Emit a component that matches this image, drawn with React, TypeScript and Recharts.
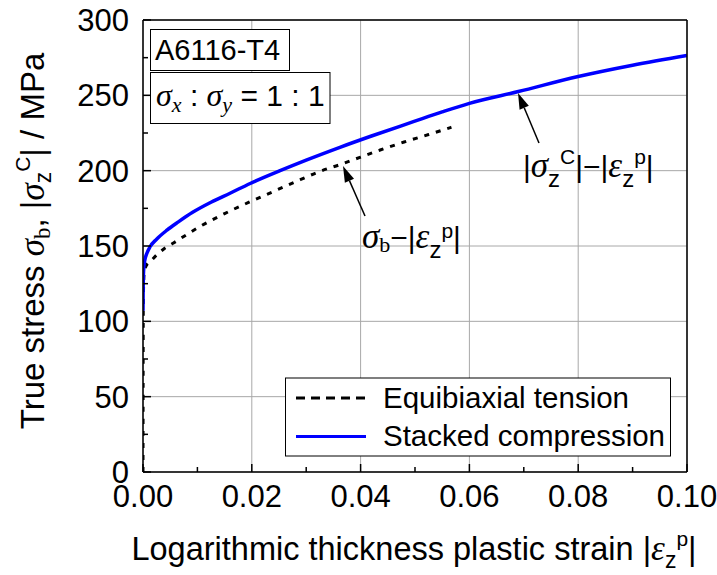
import React from 'react';
import { LineChart, Line, XAxis, YAxis, CartesianGrid } from 'recharts';

const SANS = '"Liberation Sans", Arial, sans-serif';
const SERIF = '"Liberation Serif", "Times New Roman", serif';

// axis ticks
const xTicks = [0, 0.01, 0.02, 0.03, 0.04, 0.05, 0.06, 0.07, 0.08, 0.09, 0.1];
const xMajor = [0, 0.02, 0.04, 0.06, 0.08, 0.1];
const xTickLabels = ['0.00', '0.02', '0.04', '0.06', '0.08', '0.10'];
const yTicks = [0, 25, 50, 75, 100, 125, 150, 175, 200, 225, 250, 275, 300];
const yMajor = [0, 50, 100, 150, 200, 250, 300];
const yTickLabels = ['0', '50', '100', '150', '200', '250', '300'];

// Equibiaxial tension: sigma_b vs |eps_z^p|
const tensionStrain = [0, 0.00002, 0.00005, 0.0002, 0.0006, 0.0013, 0.0025, 0.004, 0.0056, 0.008, 0.0105, 0.015, 0.0197, 0.0245, 0.0289, 0.0325, 0.0362, 0.04, 0.0436, 0.048, 0.0525, 0.0567];
const tensionStress = [0, 60, 110, 132, 137, 139.5, 144, 148.5, 152, 157.5, 163, 171.5, 179.4, 187, 194, 199.5, 204, 209, 213.7, 219, 224, 228.8];

// Stacked compression: |sigma_z^C| vs |eps_z^p|
const compStrain = [0, 0.00002, 0.00005, 0.0001, 0.0003, 0.0007, 0.0013, 0.0025, 0.0044, 0.0065, 0.0092, 0.0125, 0.016, 0.0197, 0.0252, 0.03, 0.0362, 0.042, 0.0497, 0.055, 0.06, 0.069, 0.08, 0.09, 0.1];
const compStress = [107, 118, 126, 133, 140, 145, 149.5, 154.5, 160.5, 166, 172.5, 179, 185, 191.5, 200, 207, 215.5, 223, 232.5, 239, 244.7, 252.5, 262.5, 270, 276.5];

const tensionData = tensionStrain.map((x, i) => ({ x, y: tensionStress[i] }));
const compData = compStrain.map((x, i) => ({ x, y: compStress[i] }));

const isMajor = (list: number[], v: number) => list.findIndex(m => Math.abs(m - v) < 1e-9);

const BottomTick = (props: any) => {
  const { x, y, payload } = props;
  const idx = isMajor(xMajor, payload.value);
  return (
    <g>
      <line x1={x} y1={y} x2={x} y2={y - (idx >= 0 ? 8 : 5)} stroke="#000" strokeWidth={1.5} />
      {idx >= 0 && (
        <text x={x} y={y + 35} textAnchor="middle" fontSize={31} fontFamily={SANS} fill="#000">
          {xTickLabels[idx]}
        </text>
      )}
    </g>
  );
};

const TopTick = (props: any) => {
  const { x, y, payload } = props;
  const idx = isMajor(xMajor, payload.value);
  return <line x1={x} y1={y} x2={x} y2={y + (idx >= 0 ? 8 : 5)} stroke="#000" strokeWidth={1.5} />;
};

const LeftTick = (props: any) => {
  const { x, y, payload } = props;
  const idx = isMajor(yMajor, payload.value);
  return (
    <g>
      <line x1={x} y1={y} x2={x + (idx >= 0 ? 8 : 5)} y2={y} stroke="#000" strokeWidth={1.5} />
      {idx >= 0 && (
        <text x={x - 14} y={y} dy="0.36em" textAnchor="end" fontSize={31} fontFamily={SANS} fill="#000">
          {yTickLabels[idx]}
        </text>
      )}
    </g>
  );
};

const RightTick = (props: any) => {
  const { x, y, payload } = props;
  const idx = isMajor(yMajor, payload.value);
  return <line x1={x} y1={y} x2={x - (idx >= 0 ? 8 : 5)} y2={y} stroke="#000" strokeWidth={1.5} />;
};

const Arrow = ({ x1, y1, x2, y2 }: { x1: number; y1: number; x2: number; y2: number }) => {
  const dx = x2 - x1;
  const dy = y2 - y1;
  const len = Math.sqrt(dx * dx + dy * dy);
  const ux = dx / len;
  const uy = dy / len;
  const bx = x2 - ux * 16;
  const by = y2 - uy * 16;
  const px = -uy * 5;
  const py = ux * 5;
  return (
    <g>
      <line x1={x1} y1={y1} x2={bx} y2={by} stroke="#000" strokeWidth={1.5} />
      <polygon points={`${x2},${y2} ${bx + px},${by + py} ${bx - px},${by - py}`} fill="#000" />
    </g>
  );
};

const Overlay = () => (
  <svg width={717} height={575} style={{ position: 'absolute', left: 0, top: 0, pointerEvents: 'none' }}>
    {/* info boxes */}
    <rect x={150.5} y={29.5} width={139} height={41} fill="#fff" stroke="#000" strokeWidth={1} />
    <text x={155} y={60} fontSize={29} fontFamily={SANS}>A6116-T4</text>
    <rect x={150.5} y={72.5} width={179.5} height={51} fill="#fff" stroke="#000" strokeWidth={1} />
    <text x={156} y={106} fontSize={30} fontFamily={SANS}>
      <tspan fontFamily={SERIF} fontStyle="italic" fontSize={32}>σ</tspan>
      <tspan fontFamily={SERIF} fontStyle="italic" fontSize={22} dy={6}>x</tspan>
      <tspan dy={-6}> : </tspan>
      <tspan fontFamily={SERIF} fontStyle="italic" fontSize={32}>σ</tspan>
      <tspan fontFamily={SERIF} fontStyle="italic" fontSize={22} dy={6}>y</tspan>
      <tspan dy={-6}> = 1 : 1</tspan>
    </text>

    {/* annotations */}
    <Arrow x1={539} y1={143} x2={518} y2={93} />
    <text x={523} y={177} fontSize={30} fontFamily={SANS}>
      <tspan>|</tspan>
      <tspan fontFamily={SERIF} fontStyle="italic" fontSize={35}>σ</tspan>
      <tspan fontSize={24} dy={10}>z</tspan>
      <tspan fontSize={21} dy={-23}>C</tspan>
      <tspan dy={13}>|−|</tspan>
      <tspan fontFamily={SERIF} fontStyle="italic" fontSize={35}>ε</tspan>
      <tspan fontSize={24} dy={10}>z</tspan>
      <tspan fontSize={21} dy={-23}>p</tspan>
      <tspan dy={13}>|</tspan>
    </text>
    <Arrow x1={365} y1={216} x2={343} y2={166} />
    <text x={362} y={248} fontSize={30} fontFamily={SANS}>
      <tspan fontFamily={SERIF} fontStyle="italic" fontSize={35}>σ</tspan>
      <tspan fontFamily={SERIF} fontSize={22} dy={4}>b</tspan>
      <tspan dy={-4}>−|</tspan>
      <tspan fontFamily={SERIF} fontStyle="italic" fontSize={35}>ε</tspan>
      <tspan fontSize={24} dy={10}>z</tspan>
      <tspan fontSize={21} dy={-20}>p</tspan>
      <tspan dy={10}>|</tspan>
    </text>

    {/* legend */}
    <rect x={285.5} y={378} width={385} height={78} fill="#fff" stroke="#000" strokeWidth={1} />
    <line x1={296} y1={398} x2={366} y2={398} stroke="#000" strokeWidth={3} strokeDasharray="9 6" />
    <text x={383} y={408} fontSize={29.5} fontFamily={SANS}>Equibiaxial tension</text>
    <line x1={296} y1={436.5} x2={366} y2={436.5} stroke="#0000ff" strokeWidth={3} />
    <text x={383} y={446} fontSize={29.5} fontFamily={SANS}>Stacked compression</text>

    {/* axis titles */}
    <text x={414} y={560} textAnchor="middle" fontSize={32.5} fontFamily={SANS}>
      Logarithmic thickness plastic strain |
      <tspan fontFamily={SERIF} fontStyle="italic" fontSize={35}>ε</tspan>
      <tspan fontSize={23} dy={8}>z</tspan>
      <tspan fontSize={21} dy={-22}>p</tspan>
      <tspan dy={14}>|</tspan>
    </text>
    <text transform="rotate(-90)" x={-241} y={44} textAnchor="middle" fontSize={33} fontFamily={SANS}>
      True stress{' '}
      <tspan fontFamily={SERIF} fontStyle="italic" fontSize={35}>σ</tspan>
      <tspan fontFamily={SERIF} fontSize={23} dy={6}>b</tspan>
      <tspan dy={-6}>, |</tspan>
      <tspan fontFamily={SERIF} fontStyle="italic" fontSize={35}>σ</tspan>
      <tspan fontSize={23} dy={7}>z</tspan>
      <tspan fontSize={21} dy={-21}>C</tspan>
      <tspan dy={14}>| / MPa</tspan>
    </text>
  </svg>
);

export default function App() {
  return (
    <div style={{ position: 'absolute', left: 0, top: 0, width: 717, height: 575, background: '#fff' }}>
      <LineChart width={717} height={575} margin={{ top: 19, right: 29, left: 0, bottom: 0 }}>
        <CartesianGrid verticalValues={xMajor} horizontalValues={yMajor} stroke="#a8a8a8" strokeWidth={1} />
        <XAxis
          xAxisId={0}
          dataKey="x"
          type="number"
          domain={[0, 0.1]}
          ticks={xTicks}
          interval={0}
          height={103}
          tickSize={0}
          tickMargin={0}
          tick={<BottomTick />}
          axisLine={{ stroke: '#000', strokeWidth: 1.5 }}
          allowDataOverflow
        />
        <XAxis
          xAxisId="top"
          orientation="top"
          dataKey="x"
          type="number"
          domain={[0, 0.1]}
          ticks={xTicks}
          interval={0}
          height={1}
          tickSize={0}
          tickMargin={0}
          tick={<TopTick />}
          axisLine={{ stroke: '#000', strokeWidth: 1.5 }}
        />
        <YAxis
          yAxisId={0}
          type="number"
          domain={[0, 300]}
          ticks={yTicks}
          interval={0}
          width={143}
          tickSize={0}
          tickMargin={0}
          tick={<LeftTick />}
          axisLine={{ stroke: '#000', strokeWidth: 1.5 }}
        />
        <YAxis
          yAxisId="right"
          orientation="right"
          type="number"
          domain={[0, 300]}
          ticks={yTicks}
          interval={0}
          width={1}
          tickSize={0}
          tickMargin={0}
          tick={<RightTick />}
          axisLine={{ stroke: '#000', strokeWidth: 1.5 }}
        />
        <Line
          data={tensionData}
          dataKey="y"
          type="monotone"
          stroke="#000"
          strokeWidth={3}
          strokeDasharray="5 7"
          dot={false}
          isAnimationActive={false}
        />
        <Line
          data={compData}
          dataKey="y"
          type="monotone"
          stroke="#0000ff"
          strokeWidth={3.5}
          dot={false}
          isAnimationActive={false}
        />
      </LineChart>
      <Overlay />
    </div>
  );
}
